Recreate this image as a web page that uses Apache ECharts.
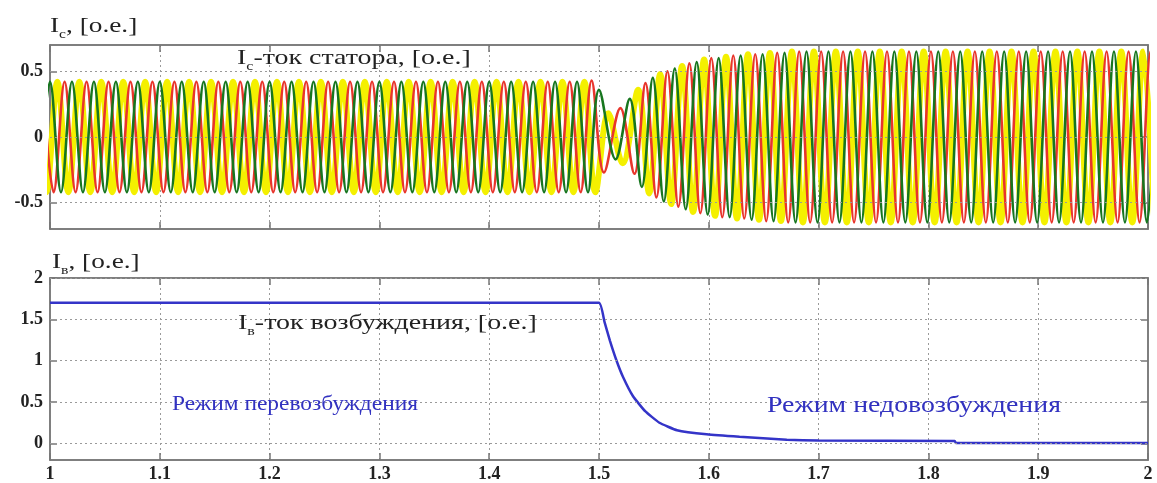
<!DOCTYPE html>
<html><head><meta charset="utf-8">
<script src="https://cdn.jsdelivr.net/npm/echarts@6/dist/echarts.min.js"></script>
<style>html,body{margin:0;padding:0;background:#fff}#c{width:1157px;height:483px}</style>
</head><body><div id="c"></div>
<script>
// ---------- data ----------
const X_MIN = 1, X_MAX = 2, X_STEP = 0.1;
const statorYTicks = [-0.5, 0, 0.5];
const fieldYTicks = [0, 0.5, 1, 1.5, 2];

// stator currents: extrema (peaks/troughs)
const halfPeriod = 0.01;          // 50 Hz
const ampBefore = 0.42;           // steady amplitude before t=1.5
const ampAfter = 0.65;            // steady amplitude after transient
const greenPeakBefore = 1.0000, redPeakBefore = 0.9933, yellowPeakBefore = 1.0067;
const greenPeakAfter = 1.5290, redPeakAfter = 1.5223, yellowPeakAfter = 1.5357;

const greenTransient = [[1.4900,-0.42],[1.5000,0.36],[1.5151,-0.17],[1.5280,0.29],[1.5390,-0.38],[1.5490,0.45],[1.5590,-0.49],[1.5690,0.52],[1.5790,-0.55],[1.5890,0.57],[1.5990,-0.59],[1.6090,0.60],[1.6190,-0.61],[1.6290,0.62],[1.6390,-0.63],[1.6490,0.63],[1.6590,-0.64],[1.6690,0.64],[1.6790,-0.65],[1.6890,0.65]];
const redTransient = [[1.4933,0.43],[1.5045,-0.27],[1.5195,0.22],[1.5323,-0.28],[1.5423,0.41],[1.5523,-0.46],[1.5623,0.50],[1.5723,-0.53],[1.5823,0.56],[1.5923,-0.58],[1.6023,0.60],[1.6123,-0.61],[1.6223,0.62],[1.6323,-0.62],[1.6423,0.63],[1.6523,-0.64],[1.6623,0.64],[1.6723,-0.65],[1.6823,0.65]];
const yellowTransient = [[1.4967,-0.42],[1.5085,0.18],[1.5215,-0.20],[1.5357,0.36],[1.5457,-0.43],[1.5557,0.48],[1.5657,-0.51],[1.5757,0.54],[1.5857,-0.57],[1.5957,0.59],[1.6057,-0.60],[1.6157,0.61],[1.6257,-0.62],[1.6357,0.63],[1.6457,-0.63],[1.6557,0.64],[1.6657,-0.64],[1.6757,0.65],[1.6857,-0.65]];

// field current
const fieldT = [1.0, 1.5, 1.505, 1.51, 1.516, 1.522, 1.531, 1.542, 1.555, 1.571, 1.598, 1.628, 1.671, 1.7, 1.824, 1.825, 2.0];
const fieldV = [1.7, 1.7, 1.47, 1.24, 1.0, 0.8, 0.57, 0.39, 0.25, 0.16, 0.11, 0.08, 0.045, 0.035, 0.03, 0.005, 0.005];

// ---------- build ----------
function phasePoints(peakBefore, peakAfter, trans) {
  const pts = [];
  const r = v => Math.round(v * 100000) / 100000;
  const first = trans[0][0], last = trans[trans.length - 1][0];
  for (let k = Math.floor((0.985 - peakBefore) / halfPeriod); ; k++) {
    const t = r(peakBefore + k * halfPeriod);
    if (t >= first - 0.002) break;
    if (t < 0.985) continue;
    pts.push([t, Math.abs(k) % 2 === 0 ? ampBefore : -ampBefore]);
  }
  trans.forEach(p => pts.push(p));
  for (let k = Math.ceil((last + 0.002 - peakAfter) / halfPeriod); ; k++) {
    const t = r(peakAfter + k * halfPeriod);
    if (t > 2.015) break;
    pts.push([t, Math.abs(k) % 2 === 0 ? ampAfter : -ampAfter]);
  }
  return pts;
}
const green = phasePoints(greenPeakBefore, greenPeakAfter, greenTransient);
const red = phasePoints(redPeakBefore, redPeakAfter, redTransient);
const yellow = phasePoints(yellowPeakBefore, yellowPeakAfter, yellowTransient);
const field = fieldT.map((t, i) => [t, fieldV[i]]);

const SERIF = 'Liberation Serif';
const axisCol = '#777';
const gridDot = { color: '#9a9a9a', type: [2, 3], width: 1 };
const lblStyle = { fontFamily: SERIF, fontSize: 18, fontWeight: 'bold', color: '#222' };

function xAx(grid, pos, labels) {
  return {
    type: 'value', gridIndex: grid, position: pos, min: X_MIN, max: X_MAX, interval: X_STEP,
    axisLine: { show: true, onZero: false, lineStyle: { color: axisCol, width: 1.5 } },
    axisTick: { show: true, inside: true, length: 7, lineStyle: { color: axisCol, width: 1.5 } },
    axisLabel: labels ? Object.assign({ show: true, margin: 5 }, lblStyle) : { show: false },
    splitLine: { show: pos === 'bottom', lineStyle: gridDot }
  };
}
function yAx(grid, pos, min, max, ticks, labels) {
  return {
    type: 'value', gridIndex: grid, position: pos, min: min, max: max,
    axisLine: { show: true, onZero: false, lineStyle: { color: axisCol, width: 1.5 } },
    axisTick: { show: true, inside: true, length: 7, customValues: ticks, lineStyle: { color: axisCol, width: 1.5 } },
    axisLabel: labels ? Object.assign({ show: true, margin: 7, customValues: ticks }, lblStyle) : { show: false },
    splitLine: { show: false }
  };
}
function gridLines(xi, yi, ticks) {
  return {
    type: 'line', xAxisIndex: xi, yAxisIndex: yi, data: [[1.5, ticks[0]]], showSymbol: false, z: 1,
    lineStyle: { opacity: 0 }, silent: true,
    markLine: { silent: true, symbol: ['none', 'none'], label: { show: false }, animation: false,
      lineStyle: gridDot, data: ticks.map(v => ({ yAxis: v })) }
  };
}

const chart = echarts.init(document.getElementById('c'), null, { renderer: 'canvas' });
const titleRich = {
  m: { fontFamily: SERIF, fontSize: 21, lineHeight: 24, verticalAlign: 'top', fill: '#222' },
  s: { fontFamily: SERIF, fontSize: 12, lineHeight: 12, padding: [13, 0, 0, 0], verticalAlign: 'top', fill: '#222' }
};
function richText(x, y, text, sx) {
  return { type: 'text', x: x, y: y, scaleX: sx || 1, z: 100,
    style: { text: text, rich: titleRich, fill: '#222' } };
}
chart.setOption({
  animation: false,
  backgroundColor: '#fff',
  grid: [
    { left: 50, right: 9, top: 45, height: 184, show: true, borderColor: axisCol, borderWidth: 1.5, backgroundColor: 'transparent' },
    { left: 50, right: 9, top: 278, bottom: 20, show: true, borderColor: axisCol, borderWidth: 1.5, backgroundColor: 'transparent' }
  ],
  xAxis: [xAx(0, 'bottom', false), xAx(0, 'top', false), xAx(1, 'bottom', true), xAx(1, 'top', false)],
  yAxis: [yAx(0, 'left', -0.7, 0.7, statorYTicks, true), yAx(0, 'right', -0.7, 0.7, statorYTicks, false),
          yAx(1, 'left', -0.2, 2, fieldYTicks, true), yAx(1, 'right', -0.2, 2, fieldYTicks, false)],
  series: [
    gridLines(0, 0, statorYTicks),
    gridLines(2, 2, fieldYTicks),
    { type: 'line', xAxisIndex: 0, yAxisIndex: 0, data: yellow, showSymbol: false, smooth: 0.36, z: 2,
      lineStyle: { color: '#f4f000', width: 6 } },
    { type: 'line', xAxisIndex: 0, yAxisIndex: 0, data: red, showSymbol: false, smooth: 0.36, z: 3,
      lineStyle: { color: '#e8352c', width: 2.6 } },
    { type: 'line', xAxisIndex: 0, yAxisIndex: 0, data: green, showSymbol: false, smooth: 0.36, z: 4,
      lineStyle: { color: '#17761f', width: 2.6 } },
    { type: 'line', xAxisIndex: 2, yAxisIndex: 2, data: field, showSymbol: false, smooth: 0.12, z: 3,
      lineStyle: { color: '#3434c8', width: 2.5 } }
  ],
  graphic: [
    richText(50, 16, '{m|I}{s|с}{m|, [o.e.]}', 1.3),
    richText(52, 252, '{m|I}{s|в}{m|, [o.e.]}', 1.3),
    richText(237, 48, '{m|I}{s|с}{m|-ток статора, [o.e.]}', 1.33),
    richText(238, 313, '{m|I}{s|в}{m|-ток возбуждения, [o.e.]}', 1.33),
    { type: 'text', x: 172, y: 405, scaleX: 1.17, z: 100,
      style: { text: 'Режим перевозбуждения', fontFamily: SERIF, fontSize: 20, fill: '#3232c0', verticalAlign: 'middle' } },
    { type: 'text', x: 767, y: 406, scaleX: 1.21, z: 100,
      style: { text: 'Режим недовозбуждения', fontFamily: SERIF, fontSize: 23, fill: '#3232c0', verticalAlign: 'middle' } }
  ]
});
</script>
</body></html>
